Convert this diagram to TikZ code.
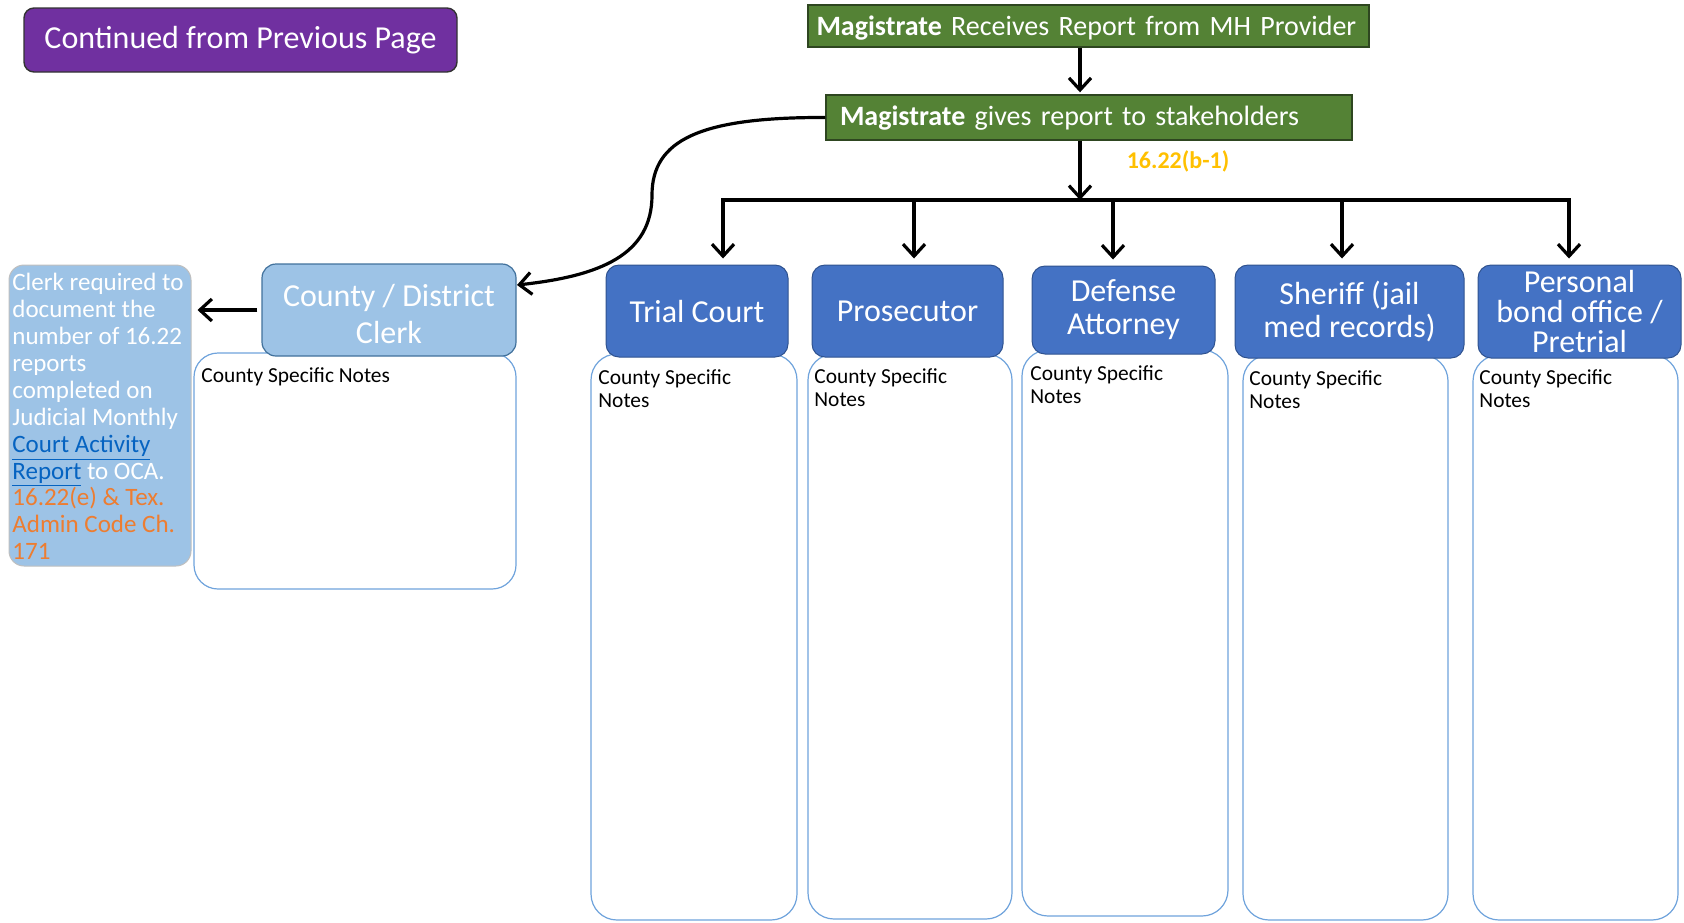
\documentclass[tikz,border=0pt]{standalone}
\usepackage{fontspec}
\setmainfont{Carlito}
\usetikzlibrary{arrows.meta}
\definecolor{purp}{HTML}{7030A0}
\definecolor{grn}{HTML}{548235}
\definecolor{grnline}{HTML}{2E4620}
\definecolor{dblue}{HTML}{4472C4}
\definecolor{dbline}{HTML}{2F528F}
\definecolor{lblue}{HTML}{9DC3E6}
\definecolor{lbline}{HTML}{41719C}
\definecolor{noteline}{HTML}{6FA3DC}
\definecolor{gold}{HTML}{FFC000}
\definecolor{orng}{HTML}{ED7D31}
\definecolor{linkblue}{HTML}{0563C1}
\begin{document}
\begin{tikzpicture}[x=0.5pt,y=-0.5pt,
  conn/.style={line width=1.6pt,-{Straight Barb[length=6pt,width=11pt]}},
  plain/.style={line width=1.6pt,line cap=rect},
  greenbox/.style={draw=grnline,line width=0.7pt,fill=grn,text=white,inner sep=0pt,
    font=\fontsize{14}{16}\selectfont,align=left},
  bluebox/.style={draw=dbline,line width=0.5pt,fill=dblue,text=white,rounded corners=6.5pt,
    inner sep=0pt,align=center},
  notebox/.style={draw=noteline,line width=0.6pt,fill=white,rounded corners=13pt,inner sep=0pt},
  notetext/.style={anchor=north west,inner sep=0pt,align=left,font=\fontsize{10.7}{11.8}\selectfont},
]
\useasboundingbox (0,0) rectangle (1684,922);

% purple
\node[draw=black!80,line width=0.7pt,fill=purp,text=white,rounded corners=5pt,inner sep=0pt,
  minimum width=216.5pt,minimum height=32pt,font=\fontsize{16}{19}\selectfont] (cont) at (240.5,40) {Continued from Previous Page};

% green boxes
\node[greenbox,minimum width=280.5pt,minimum height=21pt,text width=272pt,text height=11.5pt,text depth=2.5pt] (g1) at (1088.5,26)
  {\textbf{Magistrate} Receives Report from MH Provider};
\node[greenbox,minimum width=263pt,minimum height=22.5pt,text width=249pt,text height=11pt,text depth=3pt] (g2) at (1089,117.5)
  {\textbf{Magistrate} gives report to stakeholders};

\node[font=\bfseries\fontsize{12}{14}\selectfont,text=gold,inner sep=0pt] (lbl) at (1178,161) {16.22(b-1)};

% notes boxes
\node[notebox,minimum width=103pt,minimum height=283pt] (n1) at (694,637) {};
\node[notebox,minimum width=102pt,minimum height=282.5pt] (n2) at (910,636.5) {};
\node[notebox,minimum width=103pt,minimum height=283pt] (n3) at (1125,633) {};
\node[notebox,minimum width=102.5pt,minimum height=282.5pt] (n4) at (1345.5,637.5) {};
\node[notebox,minimum width=102.5pt,minimum height=282.5pt] (n5) at (1575.5,637.5) {};
\node[notebox,rounded corners=12pt,minimum width=161pt,minimum height=118pt] (nc) at (355,471) {};

% blue boxes
\node[bluebox,minimum width=91pt,minimum height=46pt,font=\fontsize{16}{16.5}\selectfont] (trial) at (697,311) {Trial Court};
\node[bluebox,minimum width=95.5pt,minimum height=46pt,font=\fontsize{16}{16.5}\selectfont] (pros) at (907.5,311) {Prosecutor};
\node[bluebox,minimum width=91.5pt,minimum height=44pt,font=\fontsize{16}{16.5}\selectfont] (def) at (1123.5,310) {Defense\\Attorney};
\node[bluebox,minimum width=114.5pt,minimum height=46.5pt,font=\fontsize{16}{16.5}\selectfont] (sher) at (1349.5,311.5) {Sheriff (jail\\med records)};
\node[bluebox,minimum width=101.5pt,minimum height=46.5pt,font=\fontsize{16}{15}\selectfont] (pers) at (1579.5,311.5) {Personal\\bond office /\\Pretrial};

\node[draw=lbline,line width=0.6pt,fill=lblue,rounded corners=7pt,inner sep=0pt,
  minimum width=127pt,minimum height=46pt] (clerk) at (389,310) {};
\node[text=white,inner sep=0pt,align=center,font=\fontsize{16}{18.8}\selectfont] (clerkt) at (389,314) {County / District\\Clerk};

% left info box
\node[draw=black!25,line width=0.5pt,fill=lblue,rounded corners=7.5pt,inner sep=0pt,
  minimum width=91pt,minimum height=150.5pt] (info) at (100,415.5) {};
\node[anchor=north west,text=white,inner sep=0pt,align=left,
  font=\fontsize{12.5}{13.45}\selectfont] (infot) at (12,273)
  {Clerk required to\\document the\\number of 16.22\\reports\\completed on\\Judicial Monthly\\
   \textcolor{linkblue}{\underline{Court Activity}}\\\textcolor{linkblue}{\underline{Report}} to OCA.\\
   \textcolor{orng}{16.22(e) \& Tex.}\\\textcolor{orng}{Admin Code Ch.}\\\textcolor{orng}{171}};

% notes texts
\node[notetext] (nct) at (201,367) {County Specific Notes};
\node[notetext] (n1t) at (598,369) {County Specific\\Notes};
\node[notetext] (n2t) at (814,368) {County Specific\\Notes};
\node[notetext] (n3t) at (1030,365) {County Specific\\Notes};
\node[notetext] (n4t) at (1249,370) {County Specific\\Notes};
\node[notetext] (n5t) at (1479,369) {County Specific\\Notes};

% connectors
\coordinate (xa) at (1080,0);
\coordinate (bus) at (1080,200);
\coordinate (d1) at (723,200);
\coordinate (d2) at (914,200);
\coordinate (d3) at (1113,200);
\coordinate (d4) at (1342,200);
\coordinate (d5) at (1569,200);
\coordinate (ce) at (517,285);

\draw[conn,shorten >=1pt] (g1.south -| xa) -- (g2.north -| xa);
\draw[conn] (g2.south -| xa) -- (bus);
\draw[plain] (d1) -- (d5);
\draw[conn,shorten >=3pt] (d1) -- (d1 |- trial.north);
\draw[conn,shorten >=3pt] (d2) -- (d2 |- pros.north);
\draw[conn,shorten >=3pt] (d3) -- (d3 |- def.north);
\draw[conn,shorten >=3pt] (d4) -- (d4 |- sher.north);
\draw[conn,shorten >=3pt] (d5) -- (d5 |- pers.north);

\draw[conn] (g2.west) .. controls (700,117) and (652,140) .. (652,195)
  .. controls (652,255) and (600,276) .. (ce);
\draw[conn,shorten <=2pt,shorten >=3pt] (clerk.west) -- (clerk.west -| info.east);
\end{tikzpicture}
\end{document}
